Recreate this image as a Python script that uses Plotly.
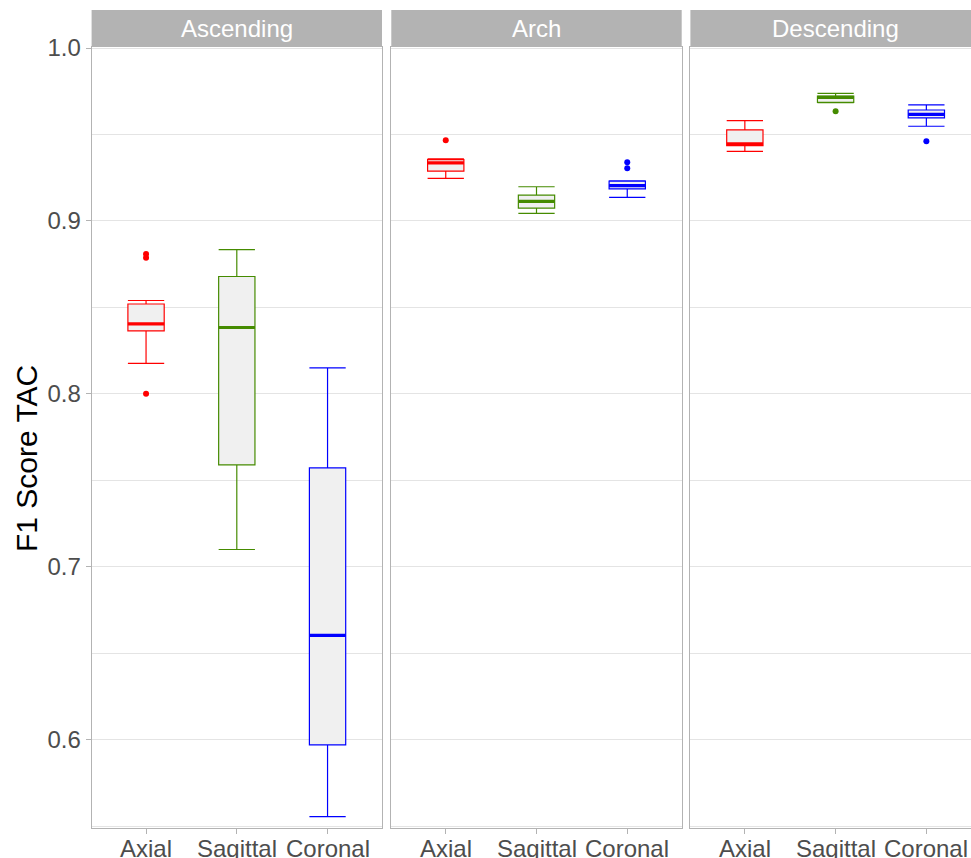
import plotly.graph_objects as go

W, H = 971, 858

regions = ["Ascending", "Arch", "Descending"]
views = ["Axial", "Sagittal", "Coronal"]
colors = {"Axial": "#FF0000", "Sagittal": "#458B00", "Coronal": "#0000FF"}

# five-number summaries per region, ordered Axial, Sagittal, Coronal
lowerfence = {
    "Ascending": [0.8177, 0.7100, 0.5555],
    "Arch": [0.9246, 0.9044, 0.9136],
    "Descending": [0.9403, 0.9684, 0.9548],
}
q1 = {
    "Ascending": [0.8365, 0.7590, 0.5970],
    "Arch": [0.9288, 0.9074, 0.9186],
    "Descending": [0.9436, 0.9686, 0.9596],
}
median = {
    "Ascending": [0.8405, 0.8384, 0.6603],
    "Arch": [0.9336, 0.9113, 0.9205],
    "Descending": [0.9446, 0.9715, 0.9617],
}
q3 = {
    "Ascending": [0.8520, 0.8679, 0.7572],
    "Arch": [0.9355, 0.9150, 0.9230],
    "Descending": [0.9527, 0.9723, 0.9642],
}
upperfence = {
    "Ascending": [0.8540, 0.8834, 0.8150],
    "Arch": [0.9360, 0.9198, 0.9232],
    "Descending": [0.9580, 0.9738, 0.9671],
}
outliers = {
    "Ascending": [[0.8001, 0.8788, 0.8809], [], []],
    "Arch": [[0.9467], [], [0.9305, 0.9340]],
    "Descending": [[], [0.9634], [0.9461]],
}

y_ticks = [0.6, 0.7, 0.8, 0.9, 1.0]
y_tick_labels = ["0.6", "0.7", "0.8", "0.9", "1.0"]
y_minor = [0.55, 0.65, 0.75, 0.85, 0.95]
y_range = [0.5491, 1.0008]

box_width = 0.4
positions = [1, 2, 3]

# layout geometry (pixels)
panel_px = [(91.6, 382.0), (391.3, 681.7), (690.4, 980.8)]
panel_top, panel_bottom = 46.7, 827.7
strip_top = 10.0
xlabel_top = 833.0

border = "#B3B3B3"
grid = "#E4E4E4"
FONT = "Liberation Sans, Arial, sans-serif"
tickfont = dict(family=FONT, size=24, color="#4D4D4D")

fig = go.Figure()
layout = dict(
    width=W, height=H,
    margin=dict(l=0, r=0, t=0, b=0, autoexpand=False),
    paper_bgcolor="white", plot_bgcolor="white",
    showlegend=False,
    shapes=[], annotations=[],
)

ydom = [1 - panel_bottom / H, 1 - panel_top / H]

for i, reg in enumerate(regions):
    n = "" if i == 0 else str(i + 1)
    xa, ya = "x" + n, "y" + n
    left, right = panel_px[i]
    ppu = (right - left) / 3.2
    dom_right = min(right, W)
    xr = [0.4, 0.4 + (dom_right - left) / ppu]

    for j, v in enumerate(views):
        c = colors[v]
        fig.add_trace(go.Box(
            x=[positions[j]], q1=[q1[reg][j]], median=[median[reg][j]], q3=[q3[reg][j]],
            lowerfence=[lowerfence[reg][j]], upperfence=[upperfence[reg][j]],
            width=box_width, whiskerwidth=1, boxpoints=False,
            line=dict(color=c, width=1.2), fillcolor="#F0F0F0",
            xaxis=xa, yaxis=ya, hoverinfo="skip",
        ))
        fig.add_trace(go.Scatter(
            x=[positions[j] - box_width / 2, positions[j] + box_width / 2],
            y=[median[reg][j], median[reg][j]],
            mode="lines", line=dict(color=c, width=3.2),
            xaxis=xa, yaxis=ya, hoverinfo="skip",
        ))
        if outliers[reg][j]:
            fig.add_trace(go.Scatter(
                x=[positions[j]] * len(outliers[reg][j]), y=outliers[reg][j],
                mode="markers", marker=dict(color=c, size=6),
                xaxis=xa, yaxis=ya, hoverinfo="skip",
            ))
        # category label under the panel (positioned on the x scale)
        layout["annotations"].append(dict(
            text=v, xref=xa, yref="paper", x=positions[j], y=1 - xlabel_top / H,
            xanchor="center", yanchor="top", showarrow=False, font=tickfont,
        ))

    layout["xaxis" + n] = dict(
        domain=[left / W, dom_right / W], anchor=ya, range=xr,
        tickvals=positions, showticklabels=False,
        ticks="outside", ticklen=5, tickcolor=border, tickwidth=1,
        showline=True, linecolor=border, linewidth=1, mirror=True,
        showgrid=False, zeroline=False, fixedrange=True, automargin=False,
    )
    layout["yaxis" + n] = dict(
        domain=ydom, anchor=xa, range=y_range,
        tickvals=y_ticks, ticktext=y_tick_labels, tickfont=tickfont,
        showticklabels=(i == 0),
        ticks="outside" if i == 0 else "", ticklen=5, tickcolor=border,
        showline=True, linecolor=border, linewidth=1, mirror=(i < 2),
        showgrid=True, gridcolor=grid, gridwidth=1, zeroline=False,
        minor=dict(tickvals=y_minor, showgrid=True, gridcolor=grid, gridwidth=1, ticks=""),
        fixedrange=True, automargin=False,
    )
    layout["shapes"].append(dict(
        type="rect", xref="paper", yref="paper",
        x0=left / W, x1=dom_right / W, y0=1 - panel_top / H, y1=1 - strip_top / H,
        fillcolor=border, line=dict(width=0), layer="above",
    ))
    layout["annotations"].append(dict(
        text=reg, xref="paper", yref="paper", showarrow=False,
        x=(left + right) / 2 / W, y=1 - (strip_top + panel_top) / 2 / H,
        xanchor="center", yanchor="middle",
        font=dict(family=FONT, size=24, color="white"),
    ))

layout["annotations"].append(dict(
    text="F1 Score TAC", xref="paper", yref="paper", showarrow=False,
    x=26 / W, y=1 - 459 / H, xanchor="center", yanchor="middle", textangle=-90,
    font=dict(family=FONT, size=30, color="black"),
))

fig.update_layout(**layout)
fig.write_html("out.html")
